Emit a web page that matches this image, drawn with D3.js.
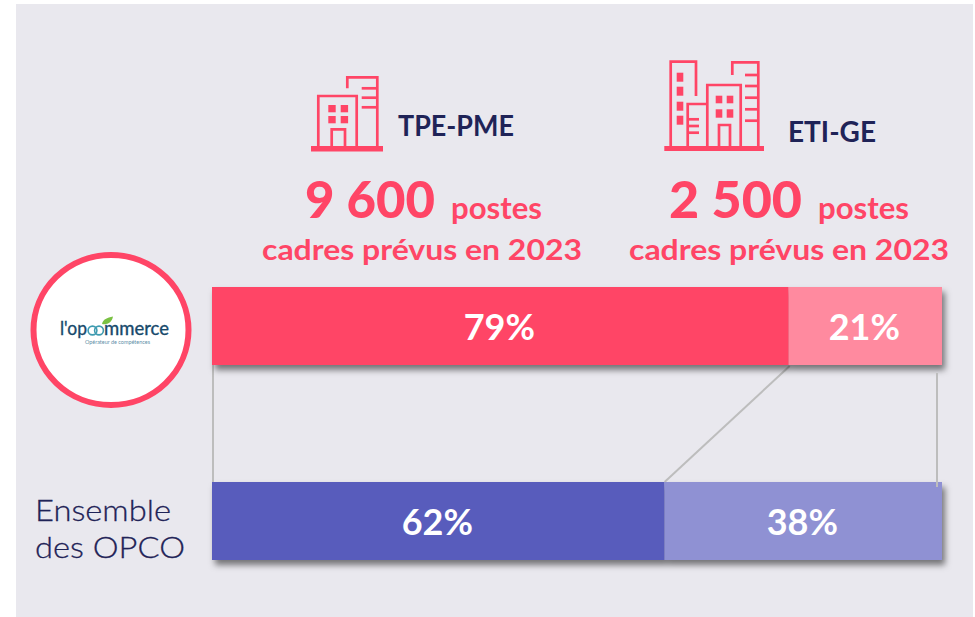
<!DOCTYPE html>
<html>
<head>
<meta charset="utf-8">
<script src="https://cdn.jsdelivr.net/npm/d3@7/dist/d3.min.js"></script>
<style>
  html, body { margin: 0; padding: 0; background: #fff; }
  svg { display: block; }
  text { font-family: Lato, sans-serif; }
</style>
</head>
<body>
<svg id="chart" width="975" height="617"></svg>
<script>
// values
const groups = ["l'opcommerce", 'Ensemble des OPCO'];
const segments = ['TPE-PME', 'ETI-GE'];
const commerceShares = [79, 21];
const opcoShares = [62, 38];
const postes = ['9 600', '2 500'];

const pink = '#ff4566', navy = '#1f2357', grey = '#bdbdbd';
const colors = {
  "l'opcommerce": ['#ff4566', '#ff8a9f'],
  'Ensemble des OPCO': ['#595cbc', '#8f91d3']
};

const svg = d3.select('#chart');

const defs = svg.append('defs');
defs.append('filter').attr('id', 'barShadow')
  .attr('x', '-5%').attr('y', '-20%').attr('width', '110%').attr('height', '150%')
  .append('feDropShadow')
  .attr('dx', 3).attr('dy', 5).attr('stdDeviation', 3.2)
  .attr('flood-color', '#000').attr('flood-opacity', 0.5);

// panel
svg.append('rect').attr('x', 16).attr('y', 4).attr('width', 957).attr('height', 613).attr('fill', '#e9e8ee');

const barHeight = 78;
const x = d3.scaleLinear().domain([0, 100]).range([212, 942]);
const y = d3.scalePoint().domain(groups).range([287, 482]);

// connectors go under the bars
const topY = y(groups[0]) + barHeight, botY = y(groups[1]);
const connectors = svg.append('g').attr('stroke', grey).attr('stroke-width', 2).attr('fill', 'none');
connectors.append('line').attr('x1', x(0) + 1).attr('x2', x(0) + 1).attr('y1', topY).attr('y2', botY);
connectors.append('line').attr('x1', x(commerceShares[0]) + 1).attr('x2', x(opcoShares[0])).attr('y1', topY + 1).attr('y2', botY);

function drawBar(group, shares) {
  const stack = d3.stack().keys(segments)([{ [segments[0]]: shares[0], [segments[1]]: shares[1] }]);
  const g = svg.append('g');
  g.append('g').attr('filter', 'url(#barShadow)')
    .selectAll('rect').data(stack).join('rect')
    .attr('x', d => x(d[0][0]))
    .attr('y', y(group))
    .attr('width', d => x(d[0][1]) - x(d[0][0]))
    .attr('height', barHeight)
    .attr('fill', (d, i) => colors[group][i]);
  g.selectAll('text').data(stack).join('text')
    .attr('x', d => (x(d[0][0]) + x(d[0][1])) / 2 - 1)
    .attr('y', y(group) + barHeight / 2 + 14)
    .attr('text-anchor', 'middle')
    .attr('fill', '#fff').attr('font-size', 36).attr('font-weight', 700)
    .text(d => (d[0][1] - d[0][0]) + '%');
}
drawBar(groups[0], commerceShares);
drawBar(groups[1], opcoShares);

// right connector sits on top of the lower bar
svg.append('line').attr('x1', x(100) - 5).attr('x2', x(100) - 5).attr('y1', topY + 8).attr('y2', botY + 5)
  .attr('stroke', grey).attr('stroke-width', 2);

// helper, text stretched to the measured width
function label(px, py, str, size, width, fill, weight) {
  return svg.append('text').attr('x', px).attr('y', py).attr('font-size', size)
    .attr('font-weight', weight || 700).attr('fill', fill)
    .attr('textLength', width).attr('lengthAdjust', 'spacingAndGlyphs').text(str);
}

// headers
label(398, 136, segments[0], 28, 116, navy);
label(788, 142, segments[1], 28, 88, navy);
label(305, 218, postes[0], 52, 130, pink, 900);
label(451, 219, 'postes', 31, 91, pink);
label(262, 260, 'cadres prévus en 2023', 29, 320, pink);
label(669, 218, postes[1], 52, 133, pink, 900);
label(818, 219, 'postes', 31, 91, pink);
label(629, 260, 'cadres prévus en 2023', 29, 320, pink);

// left labels
label(35, 521, 'Ensemble', 30, 136, navy, 300).attr('stroke', navy).attr('stroke-width', 0.3);
label(35, 558, 'des OPCO', 30, 150, navy, 300).attr('stroke', navy).attr('stroke-width', 0.3);

// logo badge
svg.append('ellipse').attr('cx', 111).attr('cy', 330).attr('rx', 77.5).attr('ry', 75)
  .attr('fill', '#fff').attr('stroke', pink).attr('stroke-width', 6);
label(60, 335, "l'op", 19, 27, '#17496b', 400).attr('stroke', '#17496b').attr('stroke-width', 0.35);
svg.append('g').attr('fill', 'none').attr('stroke', '#3f9bb0').attr('stroke-width', 1.6)
  .selectAll('circle').data([92.5, 99]).join('circle')
  .attr('cx', d => d).attr('cy', 330.5).attr('r', 4.4);
label(104, 335, 'mmerce', 19, 65, '#17496b', 400).attr('stroke', '#17496b').attr('stroke-width', 0.35);
svg.append('path').attr('d', 'M102 324 C103 319 107 318 113 316.5 C112 322 108 325 102 324 Z').attr('fill', '#7ac143');
label(85, 344, 'Opérateur de compétences', 5.5, 65, '#5f8fa8', 400);

// building icons
function building(parts) {
  const g = svg.append('g');
  g.selectAll('path').data(parts.lines).join('path')
    .attr('d', d => d).attr('fill', 'none').attr('stroke', pink).attr('stroke-width', 2.7);
  g.selectAll('rect').data(parts.blocks).join('rect')
    .attr('x', d => d[0]).attr('y', d => d[1]).attr('width', d => d[2]).attr('height', d => d[3])
    .attr('fill', pink);
}
building({
  lines: [
    'M318.3 146V96H356.7V146', 'M331.7 146V129.3H345V146',
    'M347.3 88.3V77.3H377.3V146',
    'M361.7 88.3H377.3', 'M361.7 97.7H377.3', 'M361.7 107.3H377.3'
  ],
  blocks: [
    [311, 146, 72, 5.5],
    [328.3, 105, 7.4, 7.3], [340.7, 105, 7.4, 7.3], [328.3, 116, 7.4, 7.3], [340.7, 116, 7.4, 7.3]
  ]
});
building({
  lines: [
    'M670.7 146V61.7H696V96', 'M687.7 146V104H707.3',
    'M687.7 119.3H699', 'M687.7 126H699', 'M687.7 132.7H699',
    'M707.3 146V85H740.7V146', 'M719 146V125H730V146',
    'M732.3 75V62.3H758.3V146',
    'M745 75H758.3', 'M745 86H758.3', 'M745 97.7H758.3', 'M745 109.3H758.3', 'M745 120.7H758.3'
  ],
  blocks: [
    [664.3, 146, 99.7, 5],
    [676.7, 72.7, 6.6, 9], [676.7, 86.7, 6.6, 9], [676.7, 101.7, 6.6, 9], [676.7, 115.7, 6.6, 9],
    [715.7, 95.7, 6.6, 7.6], [726.7, 95.7, 6.6, 7.6], [715.7, 109.3, 6.6, 8.4], [726.7, 109.3, 6.6, 8.4]
  ]
});
</script>
</body>
</html>
